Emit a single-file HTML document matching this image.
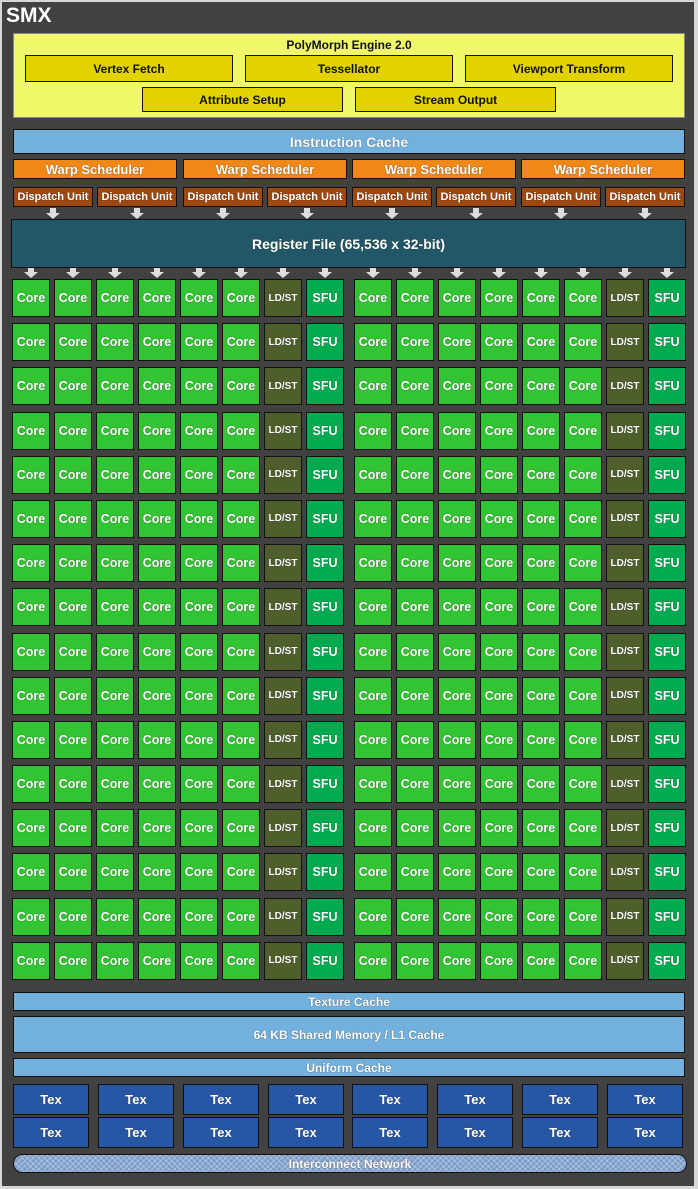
<!DOCTYPE html><html><head><style>
body{margin:0;width:698px;height:1189px;background:#d8d8d8;font-family:"Liberation Sans",Arial,sans-serif;font-weight:bold;position:relative;overflow:hidden}
.bg{position:absolute;left:2px;top:2px;width:692px;height:1184px;background:#414141}
.a{position:absolute;box-sizing:border-box;border:1px solid #111;display:flex;align-items:center;justify-content:center;color:#fff;text-shadow:0 0 1px #333}
.y{background:#e2d200;color:#111;text-shadow:none;font-size:12px}
.bl{background:#72b1de}
.w{background:#f08818;font-size:13px}
.d{background:#9c4810;font-size:11px}
.t{background:#2656a4;font-size:13px}
.g{position:absolute;top:279px;display:grid;grid-template-columns:repeat(8,38px);column-gap:4px;grid-auto-rows:38px;row-gap:6.2px}
.g i,.g b,.g u{box-sizing:border-box;border:1px solid #111;display:flex;align-items:center;justify-content:center;color:#fff;font-style:normal;text-decoration:none;font-size:12.5px;text-shadow:0 0 1px #333}
.g i{background:#33c433}.g b{background:#4f5f2c;font-size:10px}.g u{background:#00ab4f}
</style></head><body>
<div class="bg"></div>
<div style="position:absolute;left:6px;top:4px;color:#fff;font-size:21px">SMX</div>
<div class="a" style="left:13px;top:33px;width:672px;height:85px;background:#f0f86a;align-items:flex-start;color:#111;text-shadow:none;font-size:12px;padding-top:4px;border-color:#888">PolyMorph Engine 2.0</div>
<div class="a y" style="left:25px;top:55px;width:208px;height:27px">Vertex Fetch</div>
<div class="a y" style="left:245px;top:55px;width:208px;height:27px">Tessellator</div>
<div class="a y" style="left:465px;top:55px;width:208px;height:27px">Viewport Transform</div>
<div class="a y" style="left:142px;top:87px;width:201px;height:25px">Attribute Setup</div>
<div class="a y" style="left:355px;top:87px;width:201px;height:25px">Stream Output</div>
<div class="a bl" style="left:13px;top:129px;width:672px;height:25px;font-size:14px">Instruction Cache</div>
<div class="a w" style="left:13px;top:159px;width:164px;height:20px">Warp Scheduler</div>
<div class="a w" style="left:183px;top:159px;width:164px;height:20px">Warp Scheduler</div>
<div class="a w" style="left:352px;top:159px;width:164px;height:20px">Warp Scheduler</div>
<div class="a w" style="left:521px;top:159px;width:164px;height:20px">Warp Scheduler</div>
<div class="a d" style="left:13px;top:187px;width:80px;height:20px">Dispatch Unit</div>
<div class="a d" style="left:97px;top:187px;width:80px;height:20px">Dispatch Unit</div>
<div class="a d" style="left:183px;top:187px;width:80px;height:20px">Dispatch Unit</div>
<div class="a d" style="left:267px;top:187px;width:80px;height:20px">Dispatch Unit</div>
<div class="a d" style="left:352px;top:187px;width:80px;height:20px">Dispatch Unit</div>
<div class="a d" style="left:436px;top:187px;width:80px;height:20px">Dispatch Unit</div>
<div class="a d" style="left:521px;top:187px;width:80px;height:20px">Dispatch Unit</div>
<div class="a d" style="left:605px;top:187px;width:80px;height:20px">Dispatch Unit</div>
<svg style="position:absolute;left:0;top:0" width="698" height="290">
<g fill="#ddd">
<path id="a1" d="M-3 208h6v5h4l-7 6l-7-6h4z" transform="translate(53,0)"/>
<use href="#a1" x="84"/><use href="#a1" x="170"/><use href="#a1" x="254"/><use href="#a1" x="339"/><use href="#a1" x="423"/><use href="#a1" x="508"/><use href="#a1" x="592"/>
<path id="a2" d="M-3 268h6v4h4l-7 6l-7-6h4z" transform="translate(31,0)"/>
<use href="#a2" x="42"/><use href="#a2" x="84"/><use href="#a2" x="126"/><use href="#a2" x="168"/><use href="#a2" x="210"/><use href="#a2" x="252"/><use href="#a2" x="294"/>
<use href="#a2" x="342"/><use href="#a2" x="384"/><use href="#a2" x="426"/><use href="#a2" x="468"/><use href="#a2" x="510"/><use href="#a2" x="552"/><use href="#a2" x="594"/><use href="#a2" x="636"/>
</g></svg>
<div class="a" style="left:11px;top:219px;width:675px;height:49px;background:#215766;font-size:14px">Register File (65,536 x 32-bit)</div>
<div class="g" style="left:12px">
<i>Core</i><i>Core</i><i>Core</i><i>Core</i><i>Core</i><i>Core</i><b>LD/ST</b><u>SFU</u>
<i>Core</i><i>Core</i><i>Core</i><i>Core</i><i>Core</i><i>Core</i><b>LD/ST</b><u>SFU</u>
<i>Core</i><i>Core</i><i>Core</i><i>Core</i><i>Core</i><i>Core</i><b>LD/ST</b><u>SFU</u>
<i>Core</i><i>Core</i><i>Core</i><i>Core</i><i>Core</i><i>Core</i><b>LD/ST</b><u>SFU</u>
<i>Core</i><i>Core</i><i>Core</i><i>Core</i><i>Core</i><i>Core</i><b>LD/ST</b><u>SFU</u>
<i>Core</i><i>Core</i><i>Core</i><i>Core</i><i>Core</i><i>Core</i><b>LD/ST</b><u>SFU</u>
<i>Core</i><i>Core</i><i>Core</i><i>Core</i><i>Core</i><i>Core</i><b>LD/ST</b><u>SFU</u>
<i>Core</i><i>Core</i><i>Core</i><i>Core</i><i>Core</i><i>Core</i><b>LD/ST</b><u>SFU</u>
<i>Core</i><i>Core</i><i>Core</i><i>Core</i><i>Core</i><i>Core</i><b>LD/ST</b><u>SFU</u>
<i>Core</i><i>Core</i><i>Core</i><i>Core</i><i>Core</i><i>Core</i><b>LD/ST</b><u>SFU</u>
<i>Core</i><i>Core</i><i>Core</i><i>Core</i><i>Core</i><i>Core</i><b>LD/ST</b><u>SFU</u>
<i>Core</i><i>Core</i><i>Core</i><i>Core</i><i>Core</i><i>Core</i><b>LD/ST</b><u>SFU</u>
<i>Core</i><i>Core</i><i>Core</i><i>Core</i><i>Core</i><i>Core</i><b>LD/ST</b><u>SFU</u>
<i>Core</i><i>Core</i><i>Core</i><i>Core</i><i>Core</i><i>Core</i><b>LD/ST</b><u>SFU</u>
<i>Core</i><i>Core</i><i>Core</i><i>Core</i><i>Core</i><i>Core</i><b>LD/ST</b><u>SFU</u>
<i>Core</i><i>Core</i><i>Core</i><i>Core</i><i>Core</i><i>Core</i><b>LD/ST</b><u>SFU</u>
</div>
<div class="g" style="left:354px">
<i>Core</i><i>Core</i><i>Core</i><i>Core</i><i>Core</i><i>Core</i><b>LD/ST</b><u>SFU</u>
<i>Core</i><i>Core</i><i>Core</i><i>Core</i><i>Core</i><i>Core</i><b>LD/ST</b><u>SFU</u>
<i>Core</i><i>Core</i><i>Core</i><i>Core</i><i>Core</i><i>Core</i><b>LD/ST</b><u>SFU</u>
<i>Core</i><i>Core</i><i>Core</i><i>Core</i><i>Core</i><i>Core</i><b>LD/ST</b><u>SFU</u>
<i>Core</i><i>Core</i><i>Core</i><i>Core</i><i>Core</i><i>Core</i><b>LD/ST</b><u>SFU</u>
<i>Core</i><i>Core</i><i>Core</i><i>Core</i><i>Core</i><i>Core</i><b>LD/ST</b><u>SFU</u>
<i>Core</i><i>Core</i><i>Core</i><i>Core</i><i>Core</i><i>Core</i><b>LD/ST</b><u>SFU</u>
<i>Core</i><i>Core</i><i>Core</i><i>Core</i><i>Core</i><i>Core</i><b>LD/ST</b><u>SFU</u>
<i>Core</i><i>Core</i><i>Core</i><i>Core</i><i>Core</i><i>Core</i><b>LD/ST</b><u>SFU</u>
<i>Core</i><i>Core</i><i>Core</i><i>Core</i><i>Core</i><i>Core</i><b>LD/ST</b><u>SFU</u>
<i>Core</i><i>Core</i><i>Core</i><i>Core</i><i>Core</i><i>Core</i><b>LD/ST</b><u>SFU</u>
<i>Core</i><i>Core</i><i>Core</i><i>Core</i><i>Core</i><i>Core</i><b>LD/ST</b><u>SFU</u>
<i>Core</i><i>Core</i><i>Core</i><i>Core</i><i>Core</i><i>Core</i><b>LD/ST</b><u>SFU</u>
<i>Core</i><i>Core</i><i>Core</i><i>Core</i><i>Core</i><i>Core</i><b>LD/ST</b><u>SFU</u>
<i>Core</i><i>Core</i><i>Core</i><i>Core</i><i>Core</i><i>Core</i><b>LD/ST</b><u>SFU</u>
<i>Core</i><i>Core</i><i>Core</i><i>Core</i><i>Core</i><i>Core</i><b>LD/ST</b><u>SFU</u>
</div>
<div class="a bl" style="left:13px;top:992px;width:672px;height:19px;font-size:12px">Texture Cache</div>
<div class="a bl" style="left:13px;top:1016px;width:672px;height:37px;font-size:12px">64 KB Shared Memory / L1 Cache</div>
<div class="a bl" style="left:13px;top:1058px;width:672px;height:19px;font-size:12px">Uniform Cache</div>
<div class="a t" style="left:13px;top:1084px;width:76px;height:31px">Tex</div>
<div class="a t" style="left:98px;top:1084px;width:76px;height:31px">Tex</div>
<div class="a t" style="left:183px;top:1084px;width:76px;height:31px">Tex</div>
<div class="a t" style="left:268px;top:1084px;width:76px;height:31px">Tex</div>
<div class="a t" style="left:352px;top:1084px;width:76px;height:31px">Tex</div>
<div class="a t" style="left:437px;top:1084px;width:76px;height:31px">Tex</div>
<div class="a t" style="left:522px;top:1084px;width:76px;height:31px">Tex</div>
<div class="a t" style="left:607px;top:1084px;width:76px;height:31px">Tex</div>
<div class="a t" style="left:13px;top:1117px;width:76px;height:31px">Tex</div>
<div class="a t" style="left:98px;top:1117px;width:76px;height:31px">Tex</div>
<div class="a t" style="left:183px;top:1117px;width:76px;height:31px">Tex</div>
<div class="a t" style="left:268px;top:1117px;width:76px;height:31px">Tex</div>
<div class="a t" style="left:352px;top:1117px;width:76px;height:31px">Tex</div>
<div class="a t" style="left:437px;top:1117px;width:76px;height:31px">Tex</div>
<div class="a t" style="left:522px;top:1117px;width:76px;height:31px">Tex</div>
<div class="a t" style="left:607px;top:1117px;width:76px;height:31px">Tex</div>
<div class="a" style="left:13px;top:1154px;width:674px;height:19px;border-radius:10px;font-size:12px;background-color:#7d9cc8;background-image:repeating-linear-gradient(45deg,transparent 0 3px,rgba(255,255,255,.3) 3px 4px),repeating-linear-gradient(-45deg,transparent 0 3px,rgba(255,255,255,.3) 3px 4px)">Interconnect Network</div>
</body></html>
